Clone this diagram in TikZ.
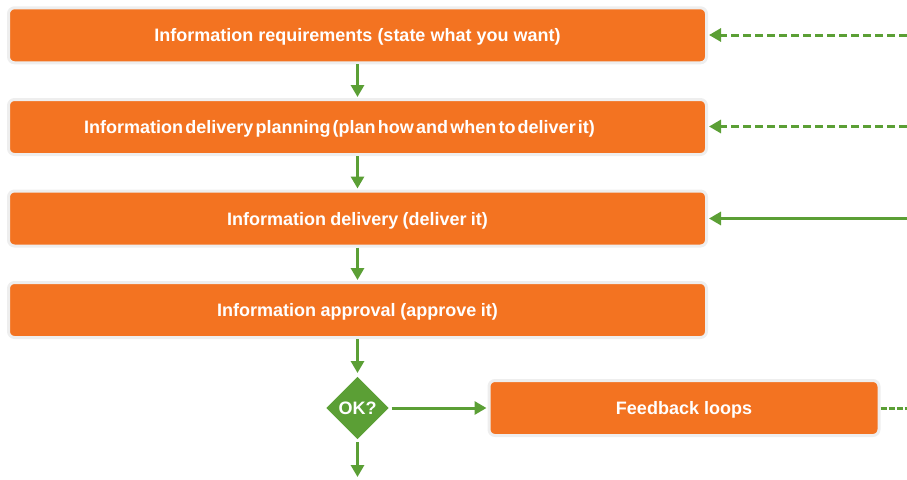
\documentclass[tikz,border=0pt]{standalone}
\usepackage{fontspec}
\setmainfont{Liberation Sans}
\usetikzlibrary{shapes.geometric,arrows.meta}
\definecolor{boxorange}{HTML}{F37321}
\definecolor{flowgreen}{HTML}{5B9F35}
\definecolor{rimgrey}{HTML}{EEEEEE}
\tikzset{
  x=1pt, y=1pt,
  stepbox/.style={rectangle, rounded corners=6pt, fill=boxorange, draw=rimgrey,
    line width=3pt, minimum height=55pt, inner sep=0pt,
    text height=13pt, text depth=0pt,
    text=white, font=\fontsize{18}{20}\selectfont\bfseries},
  decision/.style={diamond, aspect=1, fill=flowgreen, minimum width=64pt,
    minimum height=64pt, inner sep=0pt, outer sep=2pt,
    text height=13pt, text depth=0pt,
    text=white, font=\fontsize{18}{20}\selectfont\bfseries},
  flow/.style={draw=flowgreen, line width=3pt,
    -{Triangle[length=12pt,width=13pt]}, shorten >=1pt},
  loopback/.style={flow, dash pattern=on 8pt off 4pt},
}
\begin{document}
\begin{tikzpicture}
\useasboundingbox (0,0) rectangle (907,-479);

% process steps
\node[stepbox, minimum width=698pt] (req) at (357.5,-35.3)
  {Information requirements (state what you want)};
\node[stepbox, minimum width=698pt] (plan) at (357.5,-127)
  {\spaceskip=2.2pt Information delivery planning (plan how and when to deliver it)\hspace*{36pt}};
\node[stepbox, minimum width=698pt] (deliv) at (357.5,-218.5)
  {\spaceskip=4.3pt Information delivery (deliver it)};
\node[stepbox, minimum width=698pt] (appr) at (357.5,-310)
  {\spaceskip=4.6pt Information approval (approve it)};

% decision and feedback
\node[decision] (ok) at (357.5,-408) {OK?};
\node[stepbox, minimum width=390pt] (fb) at (684,-408) {Feedback loops};

% loop entry points at the right edge
\coordinate (in1) at (907,-35);
\coordinate (in2) at (907,-126.5);
\coordinate (in3) at (907,-218.5);
\coordinate (fbout) at (907,-408);
\coordinate (done) at (357.5,-479);

% main flow
\draw[flow] (req) -- (plan);
\draw[flow] (plan) -- (deliv);
\draw[flow] (deliv) -- (appr);
\draw[flow] (appr) -- (ok);
\draw[flow] (ok) -- (fb);
\draw[flow, shorten >=2pt] (ok) -- (done);

% feedback returns
\draw[loopback] (in1) -- (req.east |- in1);
\draw[loopback] (in2) -- (plan.east |- in2);
\draw[flow] (in3) -- (deliv.east |- in3);
\draw[flowgreen, line width=3pt, dash pattern=on 6pt off 2pt] (fb.east) -- (fbout);
\end{tikzpicture}
\end{document}
